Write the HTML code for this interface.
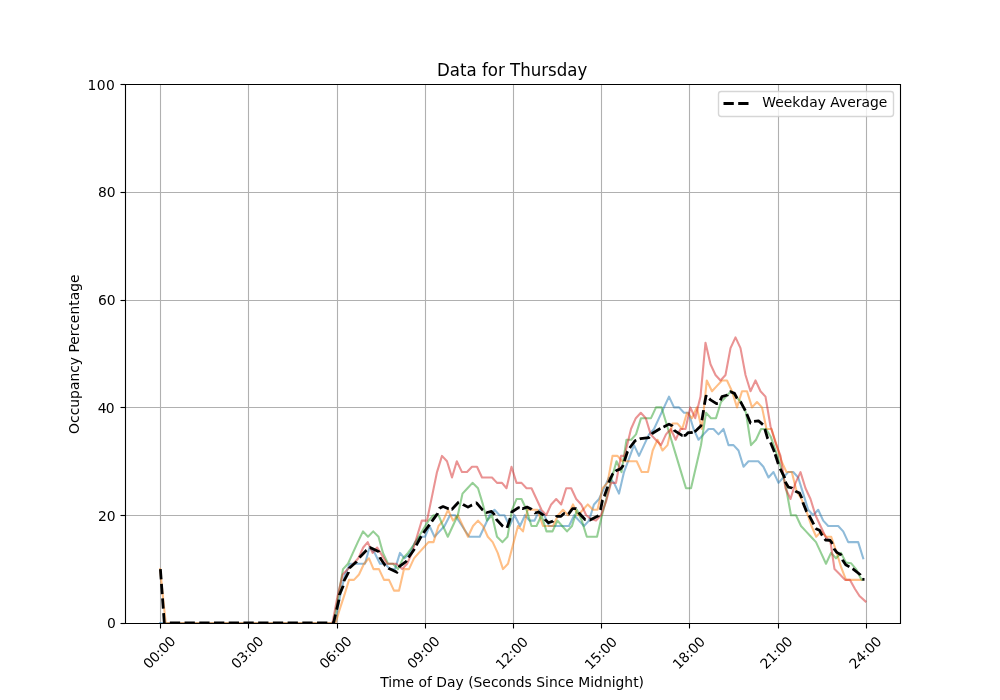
<!DOCTYPE html>
    <html><head><meta charset="utf-8"><title>Data for Thursday</title>
    <style>
    html,body{margin:0;padding:0;background:#fff;}
    body{width:1000px;height:700px;overflow:hidden;font-family:'DejaVu Sans','Liberation Sans',sans-serif;}
    svg{display:block}
    text{font-family:'DejaVu Sans','Liberation Sans',sans-serif;fill:#000}
    </style></head><body>
    <svg width="1000" height="700" viewBox="0 0 1000 700">
    <rect width="1000" height="700" fill="#fff"/>
    <defs><clipPath id="ax"><rect x="125" y="84" width="775" height="539"/></clipPath></defs>
    
<g stroke="#b0b0b0" stroke-width="1.11" fill="none">
<path d="M160.5 84 V623"/>
<path d="M248.5 84 V623"/>
<path d="M337.5 84 V623"/>
<path d="M425.5 84 V623"/>
<path d="M513.5 84 V623"/>
<path d="M601.5 84 V623"/>
<path d="M689.5 84 V623"/>
<path d="M778.5 84 V623"/>
<path d="M866.5 84 V623"/>
<path d="M125 623.5 H900"/>
<path d="M125 515.5 H900"/>
<path d="M125 407.5 H900"/>
<path d="M125 300.5 H900"/>
<path d="M125 192.5 H900"/>
<path d="M125 84.5 H900"/>
</g>
<g clip-path="url(#ax)" fill="none" stroke-linejoin="round">
<path d="M160.20 623.00 L335.20 623.00 L340.10 596.05 L345.00 574.49 L350.00 563.71 L355.00 563.71 L360.00 563.71 L365.00 563.71 L369.50 547.54 L374.70 552.93 L380.00 563.71 L385.00 563.71 L390.00 569.10 L395.00 569.10 L400.00 552.93 L404.50 558.32 L410.00 552.93 L415.00 542.15 L420.00 536.76 L425.00 536.76 L429.50 525.98 L434.50 536.76 L439.50 531.37 L444.50 525.98 L450.00 515.20 L455.00 515.20 L459.70 522.21 L464.50 529.75 L469.30 536.76 L474.50 536.76 L479.70 536.76 L484.70 525.98 L489.70 515.20 L494.50 509.81 L499.50 515.20 L504.50 515.20 L509.50 525.98 L514.50 515.20 L520.00 525.98 L525.00 515.20 L529.50 520.59 L534.50 520.59 L539.50 509.81 L544.20 515.20 L549.00 525.98 L554.00 525.98 L559.00 525.98 L564.00 525.98 L569.00 525.98 L574.20 515.20 L579.00 520.59 L584.00 525.98 L589.00 520.59 L594.00 504.42 L599.00 499.03 L604.00 488.25 L609.00 477.47 L614.00 482.86 L619.00 493.64 L624.00 472.08 L629.00 458.61 L634.00 445.13 L639.00 455.91 L644.00 445.13 L649.00 434.35 L654.00 428.96 L659.00 418.18 L664.00 407.40 L669.00 396.62 L674.00 407.40 L679.00 407.40 L684.00 412.79 L688.70 412.79 L693.60 428.96 L698.50 439.74 L703.50 434.35 L708.50 428.96 L713.50 428.96 L718.50 434.35 L723.50 428.96 L728.50 445.13 L733.50 445.13 L738.50 450.52 L743.50 466.69 L748.50 461.30 L753.50 461.30 L758.30 461.30 L763.40 466.69 L768.50 477.47 L773.50 472.08 L778.50 482.86 L783.30 477.47 L788.20 472.08 L793.20 472.08 L798.20 477.47 L803.20 493.64 L808.20 509.81 L813.20 515.20 L818.20 509.81 L823.20 520.59 L828.20 525.98 L833.20 525.98 L838.20 525.98 L843.20 531.37 L848.20 542.15 L853.20 542.15 L858.20 542.15 L863.20 558.32" stroke="#1f77b4" stroke-opacity="0.5" stroke-width="2.08" stroke-linecap="square"/>
<path d="M160.10 569.10 L165.70 623.00 L335.50 623.00 L340.00 608.45 L344.60 594.43 L349.00 579.88 L354.00 579.88 L359.00 574.49 L364.00 563.71 L369.00 558.32 L373.50 569.10 L379.00 569.10 L384.00 579.88 L389.00 579.88 L394.00 590.66 L399.00 590.66 L404.00 569.10 L409.00 569.10 L414.00 558.32 L418.80 552.93 L423.70 547.54 L428.50 542.15 L433.50 542.15 L438.50 525.98 L443.20 520.59 L448.00 509.81 L453.00 520.59 L457.80 515.20 L462.80 525.98 L468.00 536.76 L473.00 525.98 L478.00 520.59 L483.00 525.98 L487.80 536.76 L492.70 542.15 L497.70 552.93 L503.00 569.10 L508.00 563.71 L513.00 544.85 L518.00 525.98 L523.00 531.37 L527.50 509.81 L532.50 509.81 L537.50 509.81 L543.00 525.98 L548.00 525.98 L553.00 525.98 L558.00 515.20 L563.00 509.81 L568.00 515.20 L573.00 504.42 L578.00 515.20 L583.00 509.81 L587.80 504.42 L593.00 509.81 L597.50 509.81 L602.50 488.25 L607.50 482.86 L612.50 455.91 L617.50 455.91 L622.20 461.30 L627.00 461.30 L631.80 461.30 L636.70 461.30 L641.70 472.08 L648.00 472.08 L652.70 450.52 L657.50 439.74 L662.50 450.52 L667.50 445.13 L672.50 423.57 L677.50 423.57 L682.20 428.96 L687.00 412.79 L692.00 418.18 L696.80 407.40 L701.80 428.96 L706.80 380.45 L712.00 391.23 L717.00 385.84 L722.00 380.45 L727.00 380.45 L732.00 391.23 L737.00 407.40 L742.00 391.23 L747.00 391.23 L752.00 407.40 L757.00 402.01 L762.00 407.40 L766.50 428.96 L771.50 428.96 L776.50 445.13 L781.50 461.30 L786.50 472.08 L791.80 472.08 L796.50 490.95 L801.50 499.03 L806.50 511.43 L811.50 525.98 L816.20 536.76 L821.20 531.37 L826.20 536.76 L831.20 536.76 L836.20 551.31 L841.20 567.48 L846.00 579.88 L851.00 579.88 L856.00 579.88 L861.00 579.88" stroke="#ff7f0e" stroke-opacity="0.5" stroke-width="2.08" stroke-linecap="square"/>
<path d="M333.60 623.00 L338.30 596.05 L343.00 569.10 L348.00 563.71 L352.90 552.93 L357.80 542.15 L363.00 531.37 L368.00 536.76 L373.20 531.37 L378.50 536.76 L383.00 552.93 L388.00 563.71 L393.00 563.71 L398.00 569.10 L403.00 558.32 L408.00 552.93 L413.80 544.85 L418.70 536.76 L423.60 528.67 L428.50 520.59 L433.50 515.20 L438.50 515.20 L443.00 525.98 L447.80 536.76 L452.80 525.98 L457.80 515.20 L462.50 493.64 L467.50 488.25 L472.50 482.86 L478.00 488.25 L482.90 504.42 L487.00 520.59 L492.00 515.20 L497.00 536.76 L502.50 542.15 L507.50 536.76 L512.00 509.81 L516.50 499.03 L521.50 499.03 L526.50 509.81 L531.50 525.98 L536.50 525.98 L541.50 515.20 L546.50 531.37 L552.50 531.37 L557.50 520.59 L562.20 525.98 L567.00 531.37 L572.00 525.98 L577.00 509.81 L581.80 520.59 L586.80 536.76 L591.80 536.76 L597.00 536.76 L602.00 515.20 L607.00 496.34 L612.00 477.47 L616.50 461.30 L621.50 472.08 L626.50 439.74 L631.20 439.74 L636.00 434.35 L641.00 418.18 L646.00 418.18 L651.00 418.18 L656.00 407.40 L661.50 407.40 L666.40 423.57 L671.30 439.74 L676.20 455.91 L681.10 472.08 L686.00 488.25 L691.00 488.25 L696.00 466.69 L701.00 445.13 L706.00 412.79 L711.00 418.18 L716.00 418.18 L721.00 402.01 L726.00 396.62 L731.00 391.23 L736.00 396.62 L741.00 402.01 L746.00 412.79 L751.00 445.13 L756.00 439.74 L761.00 428.96 L766.00 428.96 L770.90 437.05 L775.80 451.60 L780.70 466.69 L785.60 485.56 L791.00 515.20 L796.00 515.20 L801.00 525.98 L806.00 531.37 L811.00 536.76 L816.00 542.15 L821.00 552.93 L826.00 563.71 L831.00 552.93 L836.00 558.32 L841.00 552.93 L846.00 562.63 L851.00 563.17 L856.00 569.10 L861.00 578.80 L862.00 579.88" stroke="#2ca02c" stroke-opacity="0.5" stroke-width="2.08" stroke-linecap="square"/>
<path d="M332.50 623.00 L337.60 596.05 L342.70 574.49 L348.00 569.10 L353.40 563.71 L358.30 558.32 L363.20 547.54 L367.70 542.15 L372.60 552.93 L377.20 547.54 L382.20 555.62 L387.20 563.71 L391.60 563.71 L396.20 563.71 L402.20 569.10 L407.10 563.71 L412.00 552.93 L416.90 536.76 L421.80 520.59 L427.00 520.59 L432.00 496.34 L437.00 472.08 L442.00 455.91 L447.00 461.30 L452.00 477.47 L456.80 461.30 L462.00 472.08 L467.00 472.08 L472.00 466.69 L477.00 466.69 L482.00 477.47 L487.00 477.47 L492.00 477.47 L497.00 482.86 L502.00 482.86 L506.50 488.25 L511.50 466.69 L516.50 482.86 L521.50 482.86 L526.50 488.25 L531.50 488.25 L536.50 499.03 L541.50 509.81 L546.20 515.20 L551.20 504.42 L556.20 499.03 L561.20 504.42 L566.20 488.25 L571.20 488.25 L576.20 499.03 L581.20 504.42 L586.20 515.20 L591.00 518.97 L596.00 520.59 L601.00 515.20 L606.00 501.73 L611.00 482.86 L616.00 482.86 L621.00 455.91 L624.50 455.91 L626.50 447.83 L631.00 428.96 L635.80 418.18 L640.80 412.79 L645.80 418.18 L650.70 434.35 L655.70 439.74 L661.00 445.13 L666.00 434.35 L670.80 428.96 L675.70 439.74 L680.50 428.96 L685.50 428.96 L690.30 407.40 L695.20 418.18 L700.50 396.62 L705.50 342.72 L710.50 364.28 L715.50 375.06 L720.50 380.45 L725.50 375.06 L730.50 348.11 L735.50 337.33 L740.50 348.11 L745.50 375.06 L750.50 391.23 L755.50 380.45 L760.50 391.23 L765.50 396.62 L770.50 426.26 L775.50 442.44 L780.50 455.91 L785.50 488.25 L790.50 499.03 L795.50 482.86 L800.50 472.08 L805.50 488.25 L810.50 499.03 L815.50 515.20 L820.50 525.98 L825.50 536.76 L830.50 542.15 L834.50 569.10 L840.00 574.49 L845.00 579.88 L850.00 579.88 L855.00 589.04 L859.50 596.05 L865.50 601.44" stroke="#d62728" stroke-opacity="0.5" stroke-width="2.08" stroke-linecap="square"/>
<path d="M160.40 569.10 L164.30 623.00" stroke="#000" stroke-width="2.78" stroke-dasharray="10.28 4.44" stroke-linecap="butt"/>
<path d="M169.85 623.00 L329.50 623.00" stroke="#000" stroke-width="2.78" stroke-dasharray="10.28 4.44" stroke-linecap="butt"/>
<g stroke="#000" stroke-width="2.78" stroke-linecap="butt">
<path d="M331.93 623.00 L333.50 623.00 L335.49 614.52"/>
<path d="M336.64 609.68 L336.80 608.99 L338.80 600.36 L338.88 599.65"/>
<path d="M339.41 595.16 L339.50 594.43 L343.00 586.35 L343.13 585.63"/>
<path d="M343.95 581.23 L344.00 580.96 L348.50 572.33 L348.56 572.06"/>
<path d="M349.39 568.48 L349.50 568.02 L356.50 561.82 L356.77 561.44"/>
<path d="M359.45 557.59 L359.50 557.51 L366.50 550.24 L366.57 550.18"/>
<path d="M369.88 547.63 L370.00 547.54 L379.00 551.85 L379.02 552.00"/>
<path d="M379.90 557.18 L380.00 557.78 L385.00 565.33 L385.48 565.71"/>
<path d="M388.44 568.11 L389.00 568.56 L397.00 572.33 L397.28 571.67"/>
<path d="M399.08 567.40 L399.50 566.40 L406.00 561.55 L406.57 560.63"/>
<path d="M408.56 557.41 L409.00 556.70 L414.00 549.70 L414.38 548.95"/>
<path d="M416.26 545.30 L416.50 544.85 L421.00 536.76 L421.28 536.33"/>
<path d="M423.48 532.97 L424.00 532.18 L429.00 525.44 L429.54 524.67"/>
<path d="M431.73 521.52 L432.00 521.13 L437.50 513.58 L437.66 513.14"/>
<path d="M439.41 508.44 L439.50 508.19 L443.00 506.58 L448.50 508.73 L448.76 508.77"/>
<path d="M451.64 509.22 L452.00 509.27 L458.50 502.26 L458.82 502.11"/>
<path d="M462.98 504.40 L463.00 504.42 L468.00 507.12 L472.00 504.96 L472.03 504.95"/>
<path d="M476.02 503.03 L476.50 502.80 L482.50 509.81 L482.95 510.08"/>
<path d="M486.15 512.00 L487.00 512.50 L491.50 511.43 L494.00 514.12 L494.42 515.02"/>
<path d="M496.19 518.85 L496.50 519.51 L502.50 525.98 L503.12 526.37"/>
<path d="M507.05 527.90 L510.25 518.13"/>
<path d="M511.55 512.99 L511.80 511.97 L518.50 507.65 L519.72 507.98"/>
<path d="M522.25 508.67 L522.50 508.73 L527.00 507.12 L531.50 509.27 L531.67 509.46"/>
<path d="M534.77 512.80 L535.00 513.04 L538.50 511.97 L543.50 515.20 L543.61 515.51"/>
<path d="M544.88 519.17 L545.00 519.51 L548.50 522.75 L553.00 521.13 L553.21 520.83"/>
<path d="M555.99 516.99 L556.50 516.28 L561.00 516.28 L564.00 513.58 L564.87 513.69"/>
<path d="M568.47 514.12 L568.50 514.12 L572.50 508.73 L576.00 508.73 L576.02 508.76"/>
<path d="M578.58 512.45 L579.00 513.04 L585.00 519.51 L585.72 519.59"/>
<path d="M589.63 520.01 L590.00 520.05 L598.50 515.74 L598.62 515.38"/>
<path d="M600.44 509.99 L600.50 509.81 L602.50 500.11 L602.58 499.94"/>
<path d="M604.26 496.32 L604.50 495.80 L607.50 487.17 L607.65 486.62"/>
<path d="M608.74 482.73 L609.00 481.78 L612.50 474.24 L613.21 473.56"/>
<path d="M615.62 471.29 L616.50 470.46 L620.50 468.85 L622.80 466.15 L623.16 465.00"/>
<path d="M624.40 461.07 L624.50 460.76 L627.50 451.60 L627.67 451.33"/>
<path d="M629.75 447.95 L630.50 446.75 L635.00 440.82 L636.32 440.30"/>
<path d="M639.70 438.97 L640.50 438.66 L649.00 437.58 L649.54 436.92"/>
<path d="M651.85 434.07 L652.50 433.27 L659.50 428.96 L660.43 428.52"/>
<path d="M663.46 427.06 L664.00 426.80 L669.00 424.11 L672.00 425.73 L672.27 426.26"/>
<path d="M674.19 429.98 L674.50 430.58 L682.00 435.43 L682.67 435.43"/>
<path d="M683.70 435.43 L685.50 435.43 L688.00 432.73 L691.00 432.73 L692.70 432.12"/>
<path d="M694.29 431.55 L695.50 431.12 L701.00 425.73 L701.21 424.45"/>
<path d="M701.92 420.29 L702.00 419.80 L703.50 410.63 L703.57 410.14"/>
<path d="M704.38 404.81 L706.00 396.08 L707.14 396.90"/>
<path d="M709.16 398.65 L710.50 399.85 L716.50 403.63 L717.86 403.33"/>
<path d="M720.29 400.30 L720.50 399.85 L722.00 396.62 L727.50 395.00 L727.83 394.64"/>
<path d="M730.33 391.96 L730.50 391.77 L734.50 393.39 L737.00 398.24 L737.17 398.42"/>
<path d="M740.21 401.70 L741.00 402.55 L744.80 409.56 L745.28 410.61"/>
<path d="M746.80 413.96 L747.00 414.41 L750.50 423.03 L750.99 423.03"/>
<path d="M754.06 421.41 L758.50 420.88 L762.95 424.61"/>
<path d="M764.82 429.06 L765.00 429.50 L767.50 438.12 L767.97 438.80"/>
<path d="M770.54 442.53 L774.46 452.04"/>
<path d="M775.17 454.22 L778.33 464.00"/>
<path d="M780.26 468.80 L780.50 469.38 L784.50 477.47 L784.63 478.09"/>
<path d="M785.40 481.84 L785.50 482.32 L788.50 487.17 L792.00 487.98 L792.37 488.30"/>
<path d="M795.37 490.93 L796.00 491.48 L799.50 493.10 L801.50 497.41 L801.72 498.22"/>
<path d="M802.87 502.33 L803.00 502.80 L806.50 511.43 L806.77 511.83"/>
<path d="M809.09 515.38 L809.50 516.01 L813.50 523.82 L813.84 524.49"/>
<path d="M815.78 528.25 L816.00 528.67 L819.50 530.29 L822.00 535.14 L822.28 535.54"/>
<path d="M824.70 538.88 L825.50 539.99 L830.00 540.26 L831.80 542.69 L832.30 543.97"/>
<path d="M834.06 548.53 L834.30 549.16 L836.80 552.39 L841.00 554.82 L841.21 555.45"/>
<path d="M842.61 559.61 L842.90 560.48 L845.70 564.79 L848.60 566.40 L849.38 566.86"/>
<path d="M852.51 568.69 L853.20 569.10 L860.00 574.49 L860.37 575.20"/>
<path d="M862.30 579.34 L864.50 579.34"/>
</g>
</g>
<g stroke="#000" stroke-width="1.11" fill="none" stroke-linecap="square">
<path d="M125.5 84.5 V623.5 H900.5 V84.5 Z"/>
</g>
<g stroke="#000" stroke-width="1.11" fill="none">
<path d="M160.5 623.5 v5"/>
<path d="M248.5 623.5 v5"/>
<path d="M337.5 623.5 v5"/>
<path d="M425.5 623.5 v5"/>
<path d="M513.5 623.5 v5"/>
<path d="M601.5 623.5 v5"/>
<path d="M689.5 623.5 v5"/>
<path d="M778.5 623.5 v5"/>
<path d="M866.5 623.5 v5"/>
<path d="M125.5 623.5 h-5"/>
<path d="M125.5 515.5 h-5"/>
<path d="M125.5 407.5 h-5"/>
<path d="M125.5 300.5 h-5"/>
<path d="M125.5 192.5 h-5"/>
<path d="M125.5 84.5 h-5"/>
</g>
<g font-size="13.89px">
<text transform="translate(115.80 628.35) scale(1 1.03)" text-anchor="end">0</text>
<text transform="translate(115.55 520.80) scale(1 1.03)" text-anchor="end">20</text>
<text transform="translate(113.80 413.00) scale(1 1.03)" text-anchor="end" letter-spacing="-0.75">40</text>
<text transform="translate(115.55 305.20) scale(1 1.03)" text-anchor="end">60</text>
<text transform="translate(115.55 197.40) scale(1 1.03)" text-anchor="end">80</text>
<text transform="translate(115.40 89.60) scale(1 1.03)" text-anchor="end" letter-spacing="0.5">100</text>
<text transform="translate(159.03 652.25) rotate(-45)" text-anchor="middle" y="5.1" font-size="13.79px" letter-spacing="-0.2">00:00</text>
<text transform="translate(246.96 652.25) rotate(-45)" text-anchor="middle" y="5.1" font-size="13.79px" letter-spacing="-0.2">03:00</text>
<text transform="translate(335.25 652.25) rotate(-45)" text-anchor="middle" y="5.1" font-size="13.79px" letter-spacing="-0.2">06:00</text>
<text transform="translate(423.14 652.25) rotate(-45)" text-anchor="middle" y="5.1" font-size="13.79px" letter-spacing="-0.2">09:00</text>
<text transform="translate(511.53 653.00) rotate(-45)" text-anchor="middle" y="5.1" font-size="13.79px" letter-spacing="-0.2">12:00</text>
<text transform="translate(600.46 653.00) rotate(-45)" text-anchor="middle" y="5.1" font-size="13.79px" letter-spacing="-0.2">15:00</text>
<text transform="translate(688.50 652.75) rotate(-45)" text-anchor="middle" y="5.1" font-size="13.79px" letter-spacing="-0.2">18:00</text>
<text transform="translate(775.99 652.40) rotate(-45)" text-anchor="middle" y="5.1" font-size="13.79px" letter-spacing="-0.2">21:00</text>
<text transform="translate(865.03 652.50) rotate(-45)" text-anchor="middle" y="5.1" font-size="13.79px" letter-spacing="-0.2">24:00</text>
<text transform="translate(512.1 686.55)" text-anchor="middle" font-size="13.89px">Time of Day (Seconds Since Midnight)</text>
<text transform="translate(78.75 354.2) rotate(-90) scale(1 1.06)" text-anchor="middle" font-size="13.89px">Occupancy Percentage</text>
</g>
<text transform="translate(512.15 75.5) scale(1 1.03)" text-anchor="middle" font-size="16.62px">Data for Thursday</text>
<rect x="718.5" y="91.5" width="175" height="25" rx="2.78" ry="2.78" fill="#fff" fill-opacity="0.8" stroke="#ccc" stroke-opacity="0.8" stroke-width="1.39"/>
<path d="M723.5 103.5 H748.5" stroke="#000" stroke-width="2.78" stroke-dasharray="10.3 4.4" fill="none"/>
<text transform="translate(762.35 106.75) scale(1 1.03)" font-size="13.89px">Weekday Average</text>
</svg></body></html>
